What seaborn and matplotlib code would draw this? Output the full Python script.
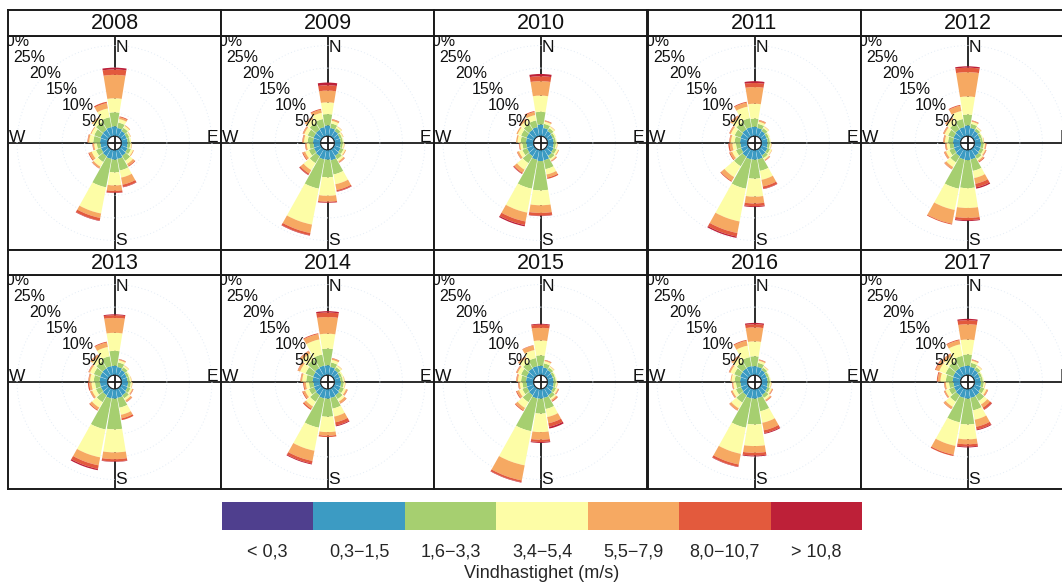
import numpy as np
import matplotlib
matplotlib.use("Agg")
import matplotlib.pyplot as plt
import seaborn as sns
from matplotlib.colors import ListedColormap

sns.set_theme(style="white")
plt.rcParams['font.family'] = ['Liberation Sans', 'DejaVu Sans']

years = [2008, 2009, 2010, 2011, 2012, 2013, 2014, 2015, 2016, 2017]
directions = [0, 20, 40, 60, 80, 100, 120, 140, 160, 180, 200, 220, 240, 260, 280, 300, 320, 340]
speed_labels = ["< 0,3", "0,3\u22121,5", "1,6\u22123,3", "3,4\u22125,4", "5,5\u22127,9", "8,0\u221210,7", "> 10,8"]
speed_colors = ["#4f3f8e", "#3c9bc3", "#a6cf70", "#fdfda6", "#f6a962", "#e35a3d", "#bd2038"]
pct_labels = [5, 10, 15, 20, 25, 30]

# frequency (%) per direction (rows) and speed class (columns)
freq_2008 = [
    [0, 2.1, 3.1, 3.1, 5.2, 1.2, 0.4], [0, 1.8, 1.2, 0.8, 0.4, 0.2, 0], [0, 1.5, 0.8, 0.5, 0.2, 0, 0],
    [0, 1.3, 0.6, 0.3, 0.1, 0, 0], [0, 1.3, 0.5, 0.3, 0, 0, 0], [0, 1.3, 0.6, 0.3, 0.1, 0, 0],
    [0, 1.5, 0.8, 0.5, 0.2, 0, 0], [0, 1.7, 1.3, 0.8, 0.5, 0.2, 0], [0, 2.0, 2.6, 1.6, 1.6, 0.5, 0.1],
    [0, 2.1, 2.8, 2.9, 1.2, 0.4, 0.1], [0, 2.0, 6.4, 5.9, 1.0, 0.6, 0.1], [0, 1.8, 1.5, 1.2, 0.4, 0.1, 0],
    [0, 1.6, 1.2, 1.0, 0.6, 0.2, 0], [0, 1.5, 0.8, 0.6, 0.3, 0.1, 0], [0, 1.6, 1.5, 0.9, 0.3, 0.1, 0],
    [0, 1.7, 1.5, 0.7, 0.2, 0, 0], [0, 1.8, 2.0, 1.0, 0.3, 0, 0], [0, 2.0, 2.2, 2.0, 1.2, 0.3, 0]]
freq_2009 = [
    [0, 2.3, 2.5, 2.6, 2.6, 1.2, 0.6], [0, 1.8, 1.0, 0.6, 0.3, 0.1, 0], [0, 1.5, 0.7, 0.4, 0.1, 0, 0],
    [0, 1.3, 0.5, 0.3, 0.1, 0, 0], [0, 1.3, 0.5, 0.2, 0, 0, 0], [0, 1.3, 0.5, 0.3, 0.1, 0, 0],
    [0, 1.5, 0.7, 0.4, 0.2, 0, 0], [0, 1.7, 0.9, 0.5, 0.3, 0.1, 0], [0, 2.3, 3.2, 2.2, 1.3, 0.3, 0.1],
    [0, 2.1, 3.9, 4.1, 1.3, 0.2, 0.1], [0, 2.1, 6.6, 8.1, 1.9, 0.5, 0.1], [0, 1.8, 1.8, 1.8, 0.9, 0.3, 0.1],
    [0, 1.6, 1.2, 0.9, 0.5, 0.2, 0], [0, 1.5, 0.9, 0.6, 0.3, 0.1, 0], [0, 1.6, 1.2, 0.8, 0.3, 0.1, 0],
    [0, 1.7, 1.4, 0.8, 0.3, 0.1, 0], [0, 1.8, 1.8, 1.0, 0.4, 0.1, 0], [0, 2.0, 1.8, 1.4, 0.7, 0.2, 0]]
freq_2010 = [
    [0, 2.5, 2.8, 3.6, 3.2, 1.1, 0.5], [0, 1.8, 0.9, 0.5, 0.2, 0.1, 0], [0, 1.5, 0.7, 0.4, 0.1, 0, 0],
    [0, 1.3, 0.5, 0.3, 0, 0, 0], [0, 1.3, 0.5, 0.2, 0, 0, 0], [0, 1.3, 0.5, 0.3, 0.1, 0, 0],
    [0, 1.5, 0.7, 0.4, 0.2, 0, 0], [0, 1.7, 0.8, 0.4, 0.2, 0.1, 0], [0, 2.3, 2.0, 1.2, 0.7, 0.3, 0],
    [0, 2.4, 6.5, 3.3, 1.7, 0.6, 0.1], [0, 2.2, 6.5, 5.4, 2.0, 0.8, 0.3], [0, 1.8, 1.8, 1.7, 0.8, 0.2, 0.1],
    [0, 1.6, 1.1, 0.8, 0.4, 0.1, 0], [0, 1.5, 0.9, 0.5, 0.2, 0.1, 0], [0, 1.6, 1.2, 0.7, 0.3, 0, 0],
    [0, 1.7, 1.3, 0.8, 0.3, 0, 0], [0, 1.8, 1.5, 0.9, 0.4, 0.1, 0], [0, 2.0, 1.5, 1.2, 0.7, 0.2, 0]]
freq_2011 = [
    [0, 2.0, 1.8, 3.3, 3.7, 0.9, 0.4], [0, 1.8, 0.9, 0.5, 0.3, 0.1, 0], [0, 1.5, 0.7, 0.4, 0.1, 0, 0],
    [0, 1.3, 0.5, 0.3, 0, 0, 0], [0, 1.3, 0.5, 0.2, 0, 0, 0], [0, 1.3, 0.5, 0.3, 0.1, 0, 0],
    [0, 1.5, 0.6, 0.4, 0.1, 0, 0], [0, 1.6, 0.7, 0.4, 0.2, 0.1, 0], [0, 2.1, 2.6, 2.0, 1.5, 0.5, 0.1],
    [0, 2.1, 4.2, 4.0, 1.5, 0.6, 0.2], [0, 2.1, 6.6, 7.4, 2.6, 0.8, 0.3], [0, 1.9, 2.5, 2.8, 1.0, 0.2, 0],
    [0, 1.6, 1.2, 0.9, 0.5, 0.2, 0], [0, 1.5, 1.0, 0.8, 0.6, 0.3, 0], [0, 1.6, 1.2, 0.8, 0.3, 0.1, 0],
    [0, 1.7, 1.4, 0.9, 0.3, 0.1, 0], [0, 1.9, 1.8, 1.2, 0.5, 0.1, 0], [0, 2.0, 2.0, 2.6, 0.9, 0.2, 0]]
freq_2012 = [
    [0, 2.3, 2.4, 4.0, 5.4, 1.0, 0.3], [0, 1.8, 0.9, 0.5, 0.2, 0.1, 0], [0, 1.5, 0.6, 0.3, 0.1, 0, 0],
    [0, 1.3, 0.5, 0.2, 0, 0, 0], [0, 1.3, 0.5, 0.2, 0.1, 0, 0], [0, 1.4, 0.6, 0.3, 0.2, 0.1, 0],
    [0, 1.5, 0.7, 0.4, 0.2, 0.1, 0], [0, 1.7, 0.8, 0.4, 0.3, 0.2, 0], [0, 2.1, 2.6, 1.6, 1.3, 0.8, 0.3],
    [0, 2.2, 6.2, 4.4, 2.2, 0.5, 0.2], [0, 2.1, 6.6, 4.8, 3.1, 0.2, 0], [0, 1.8, 1.6, 1.2, 0.5, 0.1, 0],
    [0, 1.6, 1.1, 0.8, 0.4, 0.1, 0], [0, 1.5, 0.9, 0.6, 0.3, 0.1, 0], [0, 1.6, 1.1, 0.7, 0.3, 0.1, 0],
    [0, 1.7, 1.3, 0.8, 0.3, 0.1, 0], [0, 1.9, 1.6, 1.0, 0.4, 0.1, 0], [0, 2.0, 1.8, 1.8, 1.2, 0.2, 0]]
freq_2013 = [
    [0, 2.0, 3.3, 4.0, 3.3, 0.6, 0.2], [0, 1.8, 1.0, 0.5, 0.2, 0.1, 0], [0, 1.5, 0.7, 0.4, 0.1, 0, 0],
    [0, 1.3, 0.5, 0.3, 0, 0, 0], [0, 1.3, 0.5, 0.3, 0.1, 0, 0], [0, 1.4, 0.6, 0.3, 0.1, 0, 0],
    [0, 1.5, 0.7, 0.4, 0.2, 0.1, 0], [0, 1.8, 0.8, 0.5, 0.4, 0.1, 0], [0, 2.0, 2.2, 1.6, 0.8, 0.4, 0],
    [0, 2.1, 6.8, 5.1, 1.5, 0.5, 0.1], [0, 2.1, 7.0, 6.3, 1.8, 0.8, 0.3], [0, 1.8, 1.8, 1.4, 0.6, 0.2, 0],
    [0, 1.6, 1.2, 0.9, 0.4, 0.1, 0], [0, 1.6, 1.1, 0.8, 0.5, 0.3, 0], [0, 1.7, 1.3, 0.8, 0.3, 0.1, 0],
    [0, 1.8, 1.5, 0.9, 0.3, 0.1, 0], [0, 1.9, 1.8, 1.2, 0.5, 0.1, 0], [0, 2.0, 2.2, 2.1, 1.0, 0.2, 0]]
freq_2014 = [
    [0, 2.1, 3.7, 3.3, 3.7, 1.0, 0.3], [0, 1.8, 1.0, 0.6, 0.3, 0.1, 0], [0, 1.5, 0.7, 0.4, 0.1, 0, 0],
    [0, 1.3, 0.5, 0.3, 0, 0, 0], [0, 1.3, 0.5, 0.3, 0.1, 0, 0], [0, 1.4, 0.6, 0.3, 0.1, 0, 0],
    [0, 1.5, 0.8, 0.5, 0.3, 0.1, 0], [0, 1.8, 1.0, 0.6, 0.5, 0.1, 0], [0, 2.0, 2.4, 1.8, 1.3, 0.7, 0.2],
    [0, 2.1, 4.0, 3.4, 0.8, 0.3, 0], [0, 2.1, 6.6, 5.2, 2.3, 0.6, 0.2], [0, 1.8, 1.7, 1.2, 0.6, 0.3, 0],
    [0, 1.6, 1.2, 0.9, 0.5, 0.2, 0], [0, 1.5, 1.0, 0.7, 0.4, 0.2, 0], [0, 1.7, 1.4, 0.9, 0.3, 0.1, 0],
    [0, 1.8, 1.8, 1.3, 0.5, 0.1, 0], [0, 2.0, 2.2, 1.6, 0.6, 0.1, 0], [0, 2.1, 2.5, 3.4, 1.2, 0.2, 0]]
freq_2015 = [
    [0, 2.0, 2.3, 3.3, 2.8, 0.7, 0.2], [0, 1.7, 0.9, 0.5, 0.2, 0.1, 0], [0, 1.5, 0.6, 0.3, 0.1, 0, 0],
    [0, 1.3, 0.5, 0.2, 0, 0, 0], [0, 1.3, 0.5, 0.2, 0, 0, 0], [0, 1.3, 0.5, 0.3, 0.1, 0, 0],
    [0, 1.5, 0.6, 0.4, 0.2, 0.1, 0], [0, 1.8, 0.8, 0.4, 0.3, 0.2, 0], [0, 2.0, 2.5, 1.8, 1.4, 0.8, 0.4],
    [0, 2.1, 3.3, 4.1, 1.7, 0.5, 0.2], [0, 2.1, 7.4, 7.7, 3.4, 0.4, 0.1], [0, 1.8, 1.8, 1.5, 0.6, 0.2, 0],
    [0, 1.6, 1.1, 0.8, 0.5, 0.2, 0], [0, 1.5, 0.9, 0.6, 0.3, 0.1, 0], [0, 1.6, 1.1, 0.7, 0.3, 0.1, 0],
    [0, 1.7, 1.3, 0.8, 0.3, 0.1, 0], [0, 1.9, 1.6, 1.0, 0.4, 0.1, 0], [0, 2.0, 1.8, 1.8, 1.0, 0.1, 0]]
freq_2016 = [
    [0, 1.9, 2.2, 3.3, 3.1, 0.7, 0.3], [0, 1.8, 0.9, 0.5, 0.2, 0.1, 0], [0, 1.5, 0.6, 0.3, 0.1, 0, 0],
    [0, 1.3, 0.5, 0.2, 0, 0, 0], [0, 1.3, 0.5, 0.2, 0, 0, 0], [0, 1.3, 0.5, 0.3, 0.1, 0, 0],
    [0, 1.5, 0.6, 0.4, 0.2, 0.1, 0], [0, 1.7, 0.8, 0.5, 0.3, 0.1, 0], [0, 2.0, 3.0, 2.6, 1.7, 0.6, 0.2],
    [0, 2.1, 5.7, 4.8, 1.5, 0.6, 0.2], [0, 2.1, 6.6, 5.9, 2.4, 0.5, 0.1], [0, 1.8, 1.9, 1.5, 0.5, 0.1, 0],
    [0, 1.6, 1.2, 0.8, 0.3, 0.1, 0], [0, 1.5, 1.0, 0.6, 0.2, 0.1, 0], [0, 1.6, 1.2, 0.7, 0.2, 0, 0],
    [0, 1.8, 1.4, 0.9, 0.3, 0.1, 0], [0, 1.9, 1.7, 1.1, 0.4, 0.1, 0], [0, 2.0, 2.0, 2.6, 1.1, 0.2, 0]]
freq_2017 = [
    [0, 2.0, 2.5, 3.3, 3.4, 0.9, 0.3], [0, 1.8, 0.9, 0.5, 0.2, 0.1, 0], [0, 1.5, 0.7, 0.4, 0.1, 0, 0],
    [0, 1.3, 0.5, 0.2, 0, 0, 0], [0, 1.3, 0.5, 0.2, 0, 0, 0], [0, 1.4, 0.6, 0.3, 0.1, 0, 0],
    [0, 1.6, 0.8, 0.5, 0.3, 0.1, 0], [0, 1.9, 1.4, 0.9, 0.8, 0.5, 0.1], [0, 2.0, 2.8, 2.1, 1.6, 0.6, 0.2],
    [0, 2.1, 5.7, 3.3, 1.1, 0.5, 0.2], [0, 2.0, 5.5, 5.3, 2.0, 0.3, 0], [0, 1.8, 1.7, 1.3, 0.5, 0.1, 0],
    [0, 1.6, 1.2, 0.8, 0.3, 0.1, 0], [0, 1.5, 1.0, 0.7, 0.3, 0.1, 0], [0, 1.7, 1.5, 1.2, 0.6, 0.2, 0],
    [0, 1.8, 1.8, 1.5, 0.8, 0.2, 0], [0, 1.9, 1.9, 1.3, 0.6, 0.1, 0], [0, 2.0, 2.3, 2.6, 0.9, 0.2, 0]]

freqs = {2008: freq_2008, 2009: freq_2009, 2010: freq_2010, 2011: freq_2011, 2012: freq_2012,
         2013: freq_2013, 2014: freq_2014, 2015: freq_2015, 2016: freq_2016, 2017: freq_2017}

colors = sns.color_palette(speed_colors)

W, H = 1062, 582
fig = plt.figure(figsize=(W / 100, H / 100), dpi=100)
fig.patch.set_facecolor("white")

col_left = [8, 221, 434, 648, 861]
pw, ph = 213, 214
rows = [(10, 36), (250, 275)]  # (strip top, panel top) in px
R = 23.6      # half panel extent in % units (incl. hole)
OFF = 1.6     # size of the central hole
edge = "#1a1a1a"
theta = np.deg2rad(directions)

for i, yr in enumerate(years):
    r, c = divmod(i, 5)
    st, pt = rows[r]
    x0 = col_left[c]
    rect = [x0 / W, 1 - (pt + ph) / H, pw / W, ph / H]

    # base layer: frame and crosshair
    base = fig.add_axes(rect, zorder=1)
    base.set_xlim(-R, R)
    base.set_ylim(-R, R)
    base.axhline(0, color=edge, lw=1.3)
    base.axvline(0, color=edge, lw=1.3)
    base.set_xticks([])
    base.set_yticks([])
    base.set_facecolor("white")
    for s in base.spines.values():
        s.set_visible(True)
        s.set_color(edge)
        s.set_linewidth(1.4)

    # polar layer: stacked wind-rose bars
    pax = fig.add_axes(rect, projection="polar", zorder=2)
    pax.set_facecolor("none")
    pax.set_theta_zero_location("N")
    pax.set_theta_direction(-1)
    pax.set_rorigin(-OFF)
    pax.set_rlim(0, R - OFF)
    data = np.array(freqs[yr], dtype=float)
    bottom = np.zeros(len(directions))
    for k in range(len(speed_labels)):
        pax.bar(theta, data[:, k], width=np.deg2rad(18.5), bottom=bottom,
                color=colors[k], edgecolor="none", align="center", zorder=3)
        bottom += data[:, k]
    pax.set_xticks([])
    pax.set_yticks([5, 10, 15, 20])
    pax.set_yticklabels([])
    pax.xaxis.grid(False)
    pax.yaxis.grid(True, color="#e3ecf6", linestyle=(0, (1, 2.5)), linewidth=0.7)
    pax.set_axisbelow(True)
    for sp in pax.spines.values():
        sp.set_visible(False)

    # text layer
    tax = fig.add_axes(rect, zorder=3)
    tax.set_xlim(-R, R)
    tax.set_ylim(-R, R)
    tax.axis("off")
    for p in pct_labels:
        rr = p + OFF
        t = tax.text(-rr * np.sin(np.pi / 4), rr * np.cos(np.pi / 4), f"{p}%",
                     ha="center", va="center", fontsize=11.5, color="#111111", clip_on=True)
        t.set_clip_box(tax.bbox)
    for lab, x, y, ha, va in [("N", 0.25, R - 0.9, "left", "top"),
                              ("S", 0.25, -R + 0.5, "left", "bottom"),
                              ("W", -R + 0.3, 0.25, "left", "baseline"),
                              ("E", R - 0.6, 0.25, "right", "baseline")]:
        t = tax.text(x, y, lab, ha=ha, va=va, fontsize=12.5, color="#111111", clip_on=True)
        t.set_clip_box(tax.bbox)

    # strip with year
    sax = fig.add_axes([x0 / W, 1 - pt / H, pw / W, (pt - st) / H], zorder=4)
    sax.set_xticks([])
    sax.set_yticks([])
    sax.set_facecolor("white")
    for s in sax.spines.values():
        s.set_visible(True)
        s.set_color(edge)
        s.set_linewidth(1.4)
    sax.text(0.5, 0.47, str(yr), ha="center", va="center", fontsize=15.5,
             color="#111111", transform=sax.transAxes)

# legend key (colour bar)
lax = fig.add_axes([222 / W, 1 - 530 / H, 640 / W, 28 / H])
sns.heatmap(np.arange(len(speed_labels))[None, :], cmap=ListedColormap(colors), cbar=False,
            ax=lax, xticklabels=speed_labels, yticklabels=False, linewidths=0)
lax.tick_params(axis="x", length=0, pad=10, labelsize=13, labelrotation=0)
lax.set_xlabel("Vindhastighet (m/s)", fontsize=13, labelpad=3)
for s in lax.spines.values():
    s.set_visible(False)

fig.savefig("out.png", dpi=100, facecolor="white")
